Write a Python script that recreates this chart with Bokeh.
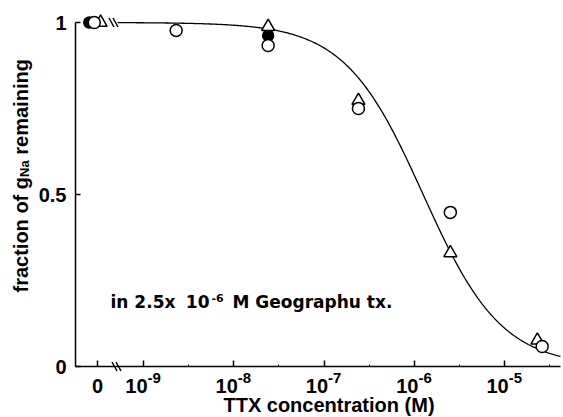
import math
import numpy as np
from bokeh.plotting import figure
from bokeh.models import Range1d, FixedTicker, Label, Arrow, LinearAxis
from bokeh.embed import file_html
from bokeh.resources import INLINE

# ---------------- data ----------------
# TTX concentration in M (0 = control, no TTX) and fraction of gNa remaining
open_conc = [0, 2.3e-9, 2.4e-8, 2.4e-7, 2.5e-6, 2.6e-5]
open_frac = [1.0, 0.977, 0.933, 0.75, 0.448, 0.058]

tri_conc = [0, 2.4e-8, 2.4e-7, 2.5e-6, 2.3e-5]
tri_frac = [1.0, 0.988, 0.773, 0.33, 0.076]

filled_conc = [0, 2.4e-8]
filled_frac = [1.0, 0.962]

# fitted binding curve parameters
IC50 = 1.25e-6
HILL = 1.0

x_tick_exponents = [-9, -8, -7, -6, -5]
y_ticks = [0, 0.5, 1]
y_tick_labels = ["0", "0.5", "1"]

x_label = "TTX concentration (M)"
y_label_parts = ["fraction of g", "Na", "remaining"]
note_parts = ["in 2.5x", "10", "-6", "M Geographu tx."]

# ---------------- layout helpers ----------------
FONT = "Liberation Sans"
NOTE_FONT = "DejaVu Sans"
PXD = 90.3          # pixels per decade
PXY = 344.0         # pixels per unit of y
ZERO_POS = -9.51    # where "0" concentration sits on the log axis
ZERO_SHIFT = {"filled": -0.09, "open": -0.035, "tri": 0.035}
W, H = 563, 417


def sx(px):
    return -9 + (px - 143) / PXD


def sy(py):
    return (366 - py) / PXY


def to_x(conc, shift):
    return [ZERO_POS + shift if c == 0 else math.log10(c) for c in conc]


p = figure(width=W, height=H,
           x_range=Range1d(sx(0), sx(W)),
           y_range=Range1d(sy(H), sy(0)),
           x_axis_location=None, y_axis_location=None,
           output_backend="svg", toolbar_location=None,
           min_border=0)
p.grid.visible = False
p.outline_line_color = None
p.background_fill_color = "white"
p.border_fill_color = "white"

# axes placed at fixed data locations
xa = LinearAxis(fixed_location=0, bounds=(sx(75), sx(560)))
xa.ticker = FixedTicker(ticks=[ZERO_POS] + x_tick_exponents,
                        minor_ticks=[e + 0.5 for e in x_tick_exponents])
xa.major_label_overrides = {t: "" for t in [ZERO_POS] + x_tick_exponents}
xa.major_tick_in = 6
xa.major_tick_out = 0
xa.minor_tick_in = 2
xa.minor_tick_out = 0
xa.axis_line_width = 1.5
xa.major_tick_line_width = 1.5
xa.minor_tick_line_width = 1
p.add_layout(xa, "below")

ya = LinearAxis(fixed_location=sx(75), bounds=(0, 1))
ya.ticker = FixedTicker(ticks=y_ticks, minor_ticks=[])
ya.major_label_overrides = {t: l for t, l in zip(y_ticks, y_tick_labels)}
ya.major_tick_in = 5
ya.major_tick_out = 0
ya.axis_line_width = 1.5
ya.major_tick_line_width = 1.5
ya.major_label_standoff = 9
ya.major_label_text_font = FONT
ya.major_label_text_font_style = "bold"
ya.major_label_text_font_size = "20px"
ya.major_label_text_color = "black"
p.add_layout(ya, "left")

# fitted curve
xs = np.linspace(sx(117), sx(560), 400)
conc = 10 ** xs
p.line(xs, 1 / (1 + (conc / IC50) ** HILL), line_color="black", line_width=1.3)

# data points
p.scatter(to_x(filled_conc, ZERO_SHIFT["filled"]), filled_frac, marker="circle",
          size=11, fill_color="black", line_color="black", line_width=1.5)
p.scatter(to_x(tri_conc, ZERO_SHIFT["tri"]), tri_frac, marker="triangle",
          size=13, fill_color="white", line_color="black", line_width=1.5)
p.scatter(to_x(open_conc, ZERO_SHIFT["open"]), open_frac, marker="circle",
          size=12, fill_color="white", line_color="black", line_width=1.5)

# axis breaks
for cx, cy in [(114, 366), (118, 366), (111, 22), (115, 22)]:
    p.add_layout(Arrow(x_start=sx(cx - 2.5), y_start=sy(cy - 4.5),
                       x_end=sx(cx + 2.5), y_end=sy(cy + 4.5),
                       start=None, end=None, line_width=1.5, line_color="black"))


def lab(x, y, text, size, align="left", angle=0.0, font=FONT):
    p.add_layout(Label(x=x, y=y, text=text, angle=angle,
                       text_font=font, text_font_style="bold",
                       text_font_size=f"{size}px", text_color="black",
                       text_align=align, text_baseline="middle"))


# x tick labels
lab(ZERO_POS, sy(385), "0", 20, "center")
for e in x_tick_exponents:
    lab(e + 4 / PXD, sy(385), "10", 20, "right")
    lab(e + 4 / PXD, sy(377.5), str(e), 15, "left")

# x axis label
lab(sx(328.5), sy(404), x_label, 20, "center")

# y axis label (rotated, with subscript)
lab(sx(20.8), sy(292), y_label_parts[0], 20, angle=math.pi / 2)
lab(sx(23.8), sy(292 - 115.6), y_label_parts[1], 13, angle=math.pi / 2)
lab(sx(20.8), sy(292 - 115.6 - 16.6 - 5.6), y_label_parts[2], 20, angle=math.pi / 2)

# annotation
lab(sx(110), sy(301), note_parts[0], 17, font=NOTE_FONT)
lab(sx(209), sy(301), note_parts[1], 17, "right", font=NOTE_FONT)
lab(sx(211), sy(297), note_parts[2], 11, font=NOTE_FONT)
lab(sx(232), sy(301), note_parts[3], 17, font=NOTE_FONT)

open("out.html", "w").write(file_html(p, INLINE))
